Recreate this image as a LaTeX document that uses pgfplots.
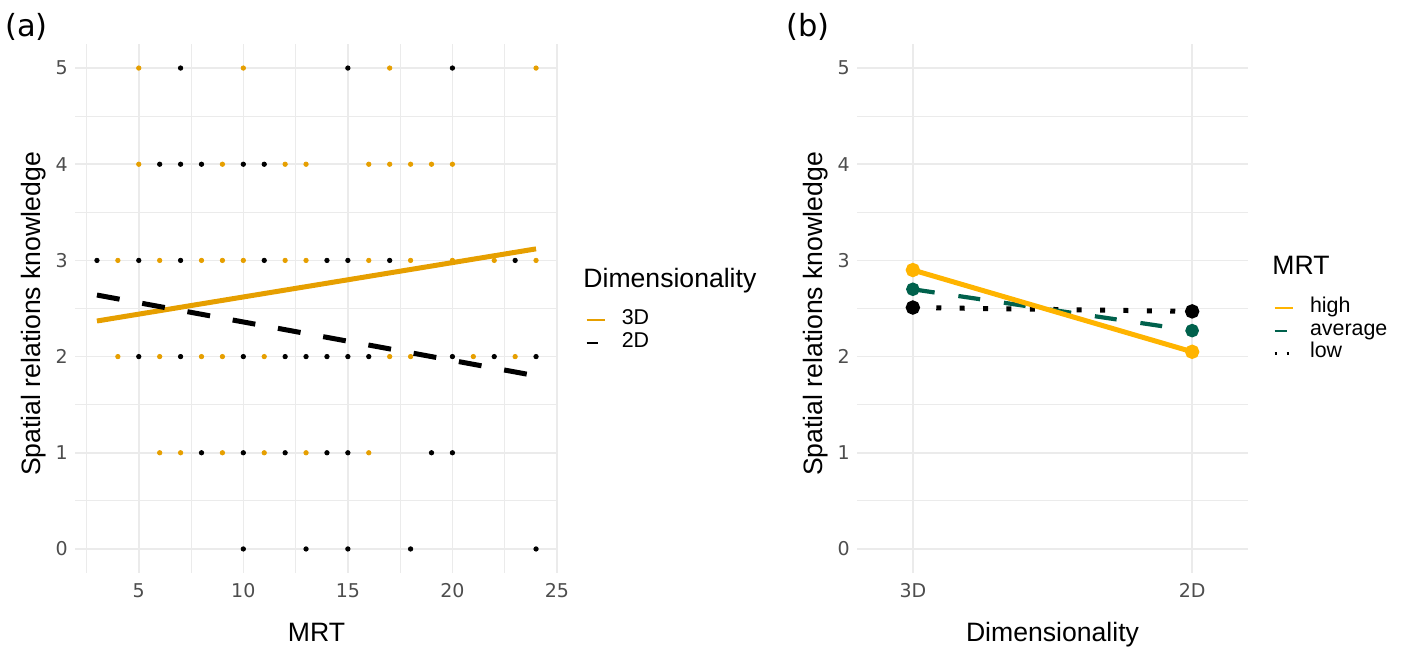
\documentclass[border=0pt]{standalone}
\usepackage{pgfplots}
\pgfplotsset{compat=1.18}
\usepackage{fontspec}
\setmainfont{Liberation Sans}
\newfontfamily\dejavu{DejaVu Sans}
\definecolor{orng}{HTML}{E69F00}
\definecolor{hi}{HTML}{FFB400}
\definecolor{avg}{HTML}{00614C}
\definecolor{gridc}{HTML}{EBEBEB}
\definecolor{tickc}{HTML}{4D4D4D}
\pgfplotsset{
  myaxis/.style={
    scale only axis, height=264.5pt,
    ymin=-0.25, ymax=5.25, ytick={0,1,2,3,4,5},
    minor ytick={0.5,1.5,2.5,3.5,4.5},
    grid=both,
    major grid style={draw=gridc, line width=0.8pt},
    minor grid style={draw=gridc, line width=0.4pt},
    axis line style={draw=none},
    major tick length=0pt, minor tick length=0pt,
    /pgf/number format/assume math mode=true,
    tick label style={font=\dejavu\fontsize{9.5}{11}\selectfont, text=tickc, inner sep=0pt},
    yticklabel style={xshift=-3.5pt},
    xticklabel style={yshift=-5pt},
    clip=false,
    legend image code/.code={\draw[#1] (0pt,0pt) -- (9pt,0pt);},
    legend style={draw=none, fill=none, inner sep=0pt, column sep=8pt,
      font=\fontsize{10.7}{12}\selectfont,
      nodes={inner sep=0pt, text height=8pt, text depth=3.25pt, anchor=west}},
    legend cell align=left,
  }
}
\begin{document}
\begin{tikzpicture}
\useasboundingbox (0,0) rectangle (701pt,324pt);
% ---------------- panel (a)
\begin{axis}[myaxis, at={(37.5pt,37.5pt)}, anchor=south west, width=241.5pt,
  xmin=1.95, xmax=25.05, xtick={5,10,15,20,25},
  minor xtick={2.5,7.5,12.5,17.5,22.5},
  legend style={at={(axis description cs:1,0)}, anchor=north west, xshift=13.5pt, yshift=132.2pt}]
\addplot[only marks, mark=*, mark size=1.1pt, black, mark options={draw=none, fill=black}, forget plot] coordinates {
(7,5)(15,5)(20,5)
(6,4)(7,4)(8,4)(10,4)(11,4)
(3,3)(5,3)(7,3)(11,3)(14,3)(15,3)(17,3)(23,3)
(5,2)(7,2)(10,2)(12,2)(13,2)(14,2)(15,2)(16,2)(20,2)(22,2)(24,2)
(8,1)(10,1)(12,1)(14,1)(15,1)(19,1)(20,1)
(10,0)(13,0)(15,0)(18,0)(24,0)};
\addplot[only marks, mark=*, mark size=1.1pt, orng, mark options={draw=none, fill=orng}, forget plot] coordinates {
(5,5)(10,5)(17,5)(24,5)
(5,4)(9,4)(12,4)(13,4)(16,4)(17,4)(18,4)(19,4)(20,4)
(4,3)(6,3)(8,3)(9,3)(10,3)(12,3)(13,3)(16,3)(18,3)(20,3)(22,3)(24,3)
(4,2)(6,2)(8,2)(9,2)(11,2)(17,2)(18,2)(21,2)(23,2)
(6,1)(7,1)(9,1)(11,1)(13,1)(16,1)};
\addplot[orng, line width=2.5pt, forget plot] coordinates {(3,2.37)(24,3.12)};
\addplot[black, line width=2.5pt, dash pattern=on 11.5pt off 11.5pt, forget plot] coordinates {(3,2.64)(24,1.80)};
\addlegendimage{orng, line width=1pt}
\addlegendentry{3D}
\addlegendimage{black, line width=1.2pt, dash pattern=on 5.5pt off 10pt}
\addlegendentry{2D}
\end{axis}
% ---------------- panel (b)
\begin{axis}[myaxis, at={(428.5pt,37.5pt)}, anchor=south west, width=195.5pt,
  xmin=0.8, xmax=2.2, xtick={1,2}, xticklabels={3D,2D},
  legend style={at={(axis description cs:1,0)}, anchor=north west, xshift=12.5pt, yshift=138.2pt}]
\addplot[black, line width=2.5pt, dash pattern=on 2.5pt off 9.2pt, mark=*, mark size=2.3pt, mark options={solid}, forget plot] coordinates {(1,2.51)(2,2.47)};
\addplot[avg, line width=2.1pt, dash pattern=on 11pt off 12pt, mark=*, mark size=2.3pt, mark options={solid}, forget plot] coordinates {(1,2.70)(2,2.27)};
\addplot[hi, line width=2.5pt, mark=*, mark size=2.3pt, forget plot] coordinates {(1,2.90)(2,2.05)};
\addlegendimage{hi, line width=1pt}
\addlegendentry{high}
\addlegendimage{avg, line width=1.2pt, dash pattern=on 6pt off 6pt}
\addlegendentry{average}
\addlegendimage{black, line width=1.3pt, dash pattern=on 1.3pt off 4.7pt}
\addlegendentry{low}
\end{axis}
% ---------------- labels
\node[anchor=base west, inner sep=0pt, font=\dejavu\fontsize{15.25}{18}\selectfont] at (2.5pt,305.5pt) {(a)};
\node[anchor=base west, inner sep=0pt, font=\dejavu\fontsize{15.25}{18}\selectfont] at (393pt,305.5pt) {(b)};
\node[anchor=base, inner sep=0pt, font=\fontsize{13.3}{16}\selectfont] at (158.25pt,3.5pt) {MRT};
\node[anchor=base, inner sep=0pt, font=\fontsize{13.3}{16}\selectfont] at (526.25pt,3.5pt) {Dimensionality};
\node[anchor=base, rotate=90, inner sep=0pt, font=\fontsize{13.3}{16}\selectfont] at (20pt,167pt) {Spatial relations knowledge};
\node[anchor=base, rotate=90, inner sep=0pt, font=\fontsize{13.3}{16}\selectfont] at (411pt,167pt) {Spatial relations knowledge};
\node[anchor=base west, inner sep=0pt, font=\fontsize{13.3}{16}\selectfont] at (291.5pt,180pt) {Dimensionality};
\node[anchor=base west, inner sep=0pt, font=\fontsize{13.3}{16}\selectfont] at (636pt,186.5pt) {MRT};
\end{tikzpicture}
\end{document}
